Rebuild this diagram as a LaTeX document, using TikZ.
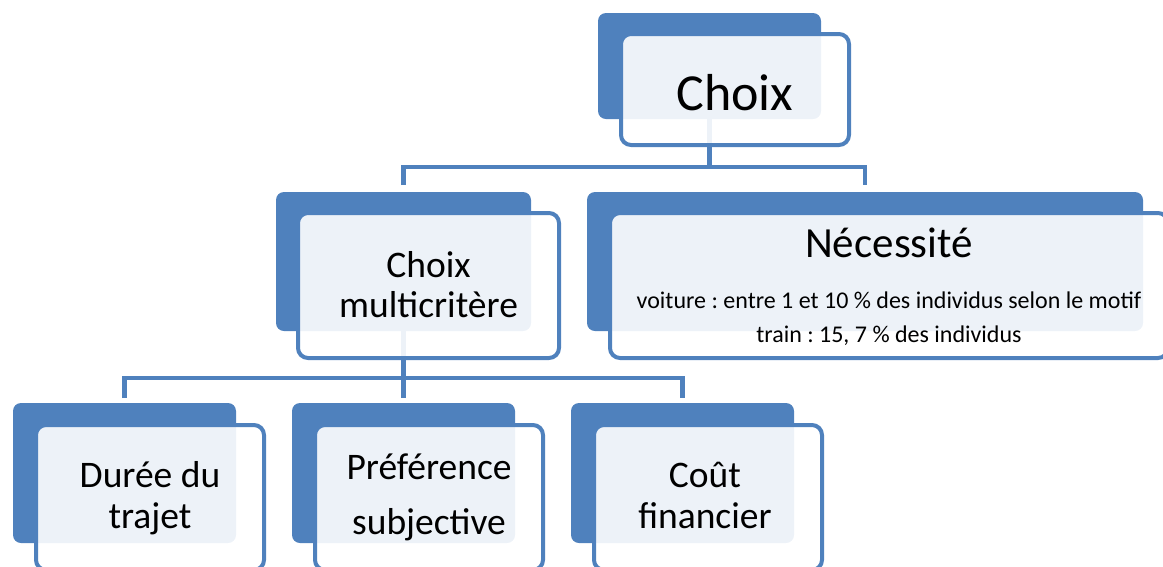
\documentclass[tikz,border=0pt]{standalone}
\usepackage{fontspec}
\setmainfont{Carlito}
\usetikzlibrary{calc}
\frenchspacing
\definecolor{accent}{HTML}{4F81BD}
\tikzset{
  backbox/.style={fill=accent, rounded corners=8pt, inner sep=0pt, outer sep=0pt, anchor=north west},
  frontbox/.style={draw=accent, line width=4pt, fill=white, fill opacity=0.9, draw opacity=1,
    rounded corners=10pt, inner sep=0pt, outer sep=0pt, anchor=north west},
  conn/.style={draw=accent, line width=4.5pt, line join=miter},
  lbl/.style={anchor=base, inner sep=0pt, text=black},
  big/.style={font=\fontsize{52}{60}\selectfont},
  mid/.style={font=\fontsize{43}{50}\selectfont},
  std/.style={font=\fontsize{37.5}{44}\selectfont},
  small/.style={font=\fontsize{24}{28}\selectfont},
}
\begin{document}
\begin{tikzpicture}[x=1pt,y=-1pt]
\useasboundingbox (0,0) rectangle (1163,566);

% back (filled) boxes
\node[backbox, minimum width=223pt, minimum height=106pt] (choixB) at (598,13) {};
\node[backbox, minimum width=255pt, minimum height=139pt] (cmB)    at (276,192) {};
\node[backbox, minimum width=556pt, minimum height=139pt] (necB)   at (587,192) {};
\node[backbox, minimum width=223pt, minimum height=140pt] (dureeB) at (13,403) {};
\node[backbox, minimum width=223pt, minimum height=140pt] (prefB)  at (292,403) {};
\node[backbox, minimum width=223pt, minimum height=140pt] (coutB)  at (571,403) {};

% connectors, drawn beneath the front boxes
\coordinate (bus1) at (709.5,167);
\coordinate (cmT)  at ($(cmB.north)+(0,-7)$);
\coordinate (necT) at ($(necB.north)+(0,-7)$);
\draw[conn] (choixB.south) -- (bus1);
\draw[conn] (cmT) |- (bus1) -| (necT);

\coordinate (bus2)   at (403.5,378);
\coordinate (dureeT) at ($(dureeB.north)+(0,-5)$);
\coordinate (prefT)  at ($(prefB.north)+(0,-5)$);
\coordinate (coutT)  at ($(coutB.north)+(0,-5)$);
\draw[conn] (cmB.south) -- (bus2);
\draw[conn] (dureeT) |- (bus2) -| (coutT);
\draw[conn] (bus2) -- (prefT);

% front (outlined, translucent) boxes
\node[frontbox, minimum width=228pt, minimum height=111pt] (choixF) at (621,34) {};
\node[frontbox, minimum width=261pt, minimum height=145pt] (cmF)    at (298,213) {};
\node[frontbox, minimum width=558pt, minimum height=145pt] (necF)   at (610,213) {};
\node[frontbox, minimum width=228pt, minimum height=145pt] (dureeF) at (36,425) {};
\node[frontbox, minimum width=228pt, minimum height=145pt] (prefF)  at (315,425) {};
\node[frontbox, minimum width=228pt, minimum height=145pt] (coutF)  at (594,425) {};

% texts
\node[lbl, big] (tChoix) at (735,110) {Choix};

\node[lbl, std] (tCm1) at (428.5,277) {Choix};
\node[lbl, std] (tCm2) at (428.5,317) {multicritère};

\node[lbl, mid]   (tNec)  at (889,257) {Nécessité};
\node[lbl, small] (tNec1) at (889,308) {voiture : entre 1 et 10 \% des individus selon le motif};
\node[lbl, small] (tNec2) at (889,342) {train : 15, 7 \% des individus};

\node[lbl, std] (tDur1) at (150,487) {Durée du};
\node[lbl, std] (tDur2) at (150,528) {trajet};

\node[lbl, std] (tPref1) at (429,479) {Préférence};
\node[lbl, std] (tPref2) at (429,534) {subjective};

\node[lbl, std] (tCout1) at (705,487) {Coût};
\node[lbl, std] (tCout2) at (705,528) {financier};
\end{tikzpicture}
\end{document}
